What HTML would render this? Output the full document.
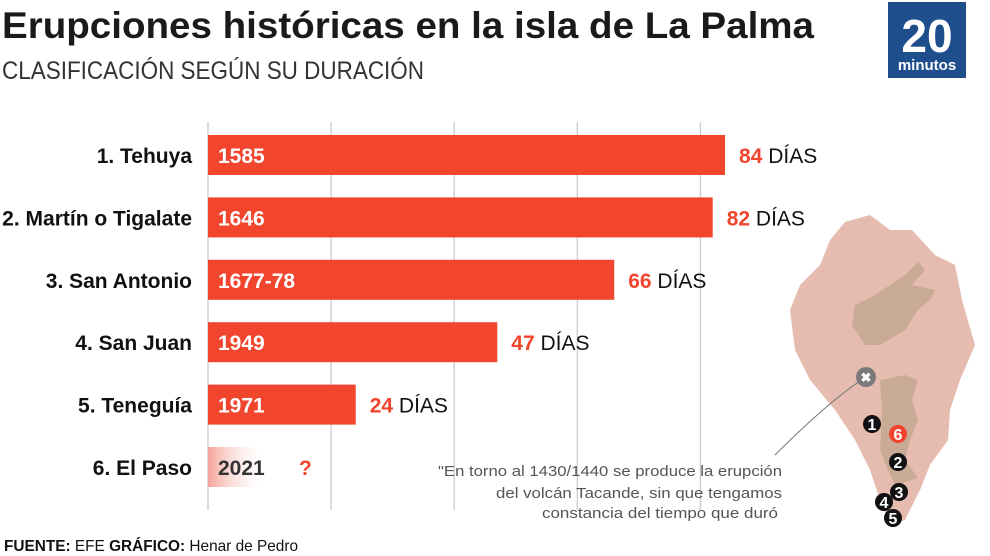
<!DOCTYPE html>
<html><head><meta charset="utf-8"><style>
body{margin:0;background:#fff;width:990px;height:556px;overflow:hidden}
svg{display:block;font-family:"Liberation Sans Narrow","Liberation Sans",sans-serif}
</style></head><body>
<svg id="c" width="990" height="556" viewBox="0 0 990 556">
<defs><linearGradient id="fade" x1="0" x2="1"><stop offset="0" stop-color="#f4a49a"/><stop offset="1" stop-color="#fff" stop-opacity="0"/></linearGradient></defs>
<text x="2" y="38" font-size="37" font-weight="bold" fill="#1a1a1a" textLength="812" lengthAdjust="spacingAndGlyphs">Erupciones históricas en la isla de La Palma</text>
<text x="2" y="79" font-size="25" fill="#333" textLength="422" lengthAdjust="spacingAndGlyphs">CLASIFICACIÓN SEGÚN SU DURACIÓN</text>
<g>
<rect x="888" y="2" width="78" height="76" fill="#1f4e8c"/>
<text x="927" y="52" font-size="46" font-weight="bold" fill="#fff" text-anchor="middle">20</text>
<text x="927" y="70" font-size="15" font-weight="bold" fill="#fff" text-anchor="middle">minutos</text>
</g>
<g id="map">
<path d="M845 222 L870 215 L890 230 L912 230 L935 255 L955 265 L962 300 L975 345 L960 380 L950 410 L948 440 L930 465 L920 490 L905 520 L890 525 L880 500 L870 470 L855 440 L835 410 L810 380 L795 350 L790 310 L800 285 L820 265 L830 240 Z" fill="#e6bcb0"/>
<path d="M918 262 L925 270 L912 285 L935 290 L930 300 L918 310 L905 330 L880 345 L865 345 L852 325 L855 305 L875 295 L890 285 L905 275 Z" fill="#c9ab95"/>
<path d="M880 380 L905 375 L918 380 L912 400 L918 420 L910 440 L905 460 L918 478 L905 482 L895 485 L888 470 L880 450 L882 410 Z" fill="#c9ab95"/>
<path d="M866 377 Q830 400 775 455" stroke="#777" stroke-width="1" fill="none"/>
<circle cx="866" cy="377" r="10" fill="#7a7a7a"/><text x="866" y="382" font-size="13" font-weight="bold" fill="#fff" text-anchor="middle">✖</text>
</g>
<g id="grid"></g><g id="bars"></g>
<g font-size="15" fill="#555" text-anchor="end">
<text x="782" y="476" textLength="344" lengthAdjust="spacingAndGlyphs">"En torno al 1430/1440 se produce la erupción</text>
<text x="782" y="498" textLength="286" lengthAdjust="spacingAndGlyphs">del volcán Tacande, sin que tengamos</text>
<text x="778" y="518" textLength="236" lengthAdjust="spacingAndGlyphs">constancia del tiempo que duró</text>
</g>
<text x="4" y="551" font-size="16" fill="#111" textLength="294" lengthAdjust="spacingAndGlyphs"><tspan font-weight="bold">FUENTE:</tspan> EFE    <tspan font-weight="bold">GRÁFICO:</tspan> Henar de Pedro</text>
</svg>
<script>
const names=["1. Tehuya","2. Martín o Tigalate","3. San Antonio","4. San Juan","5. Teneguía","6. El Paso"];
const years=["1585","1646","1677-78","1949","1971","2021"];
const days=[84,82,66,47,24,null];
const ticks=[0,20,40,60,80];
const mapDots=[[872,424,"1"],[898,434,"6"],[898,462,"2"],[899,492,"3"],[884,502,"4"],[893,518,"5"]];
const NS="http://www.w3.org/2000/svg";
const x=v=>208+v*6.155, y=i=>155+i*62.4;
function mk(t,a,p){const e=document.createElementNS(NS,t);for(const k in a)e.setAttribute(k,a[k]);p.appendChild(e);return e;}
const G=document.getElementById('grid'),B=document.getElementById('bars'),M=document.getElementById('map');
ticks.forEach(t=>{const l=mk('line',{x1:x(t),x2:x(t),y1:122,y2:510,stroke:'#ccc','stroke-width':1.3},G);

});
names.forEach((n,i)=>{const cy=y(i);
const lb=mk('text',{x:192,y:cy+8,'font-size':21,'font-weight':'bold',fill:'#111','text-anchor':'end'},B);lb.textContent=n;


const d=days[i];
const r=mk('rect',{x:208,y:cy-20,width:d==null?60:x(d)-208,height:40,fill:d==null?'url(#fade)':'#f2452d'},B);


const yr=mk('text',{x:218,y:cy+8,'font-size':21,'font-weight':'bold',fill:d==null?'#333':'#fff'},B);yr.textContent=years[i];


const v=mk('text',{x:d==null?299:x(d)+14,y:cy+8,'font-size':21,fill:'#111'},B);


if(d==null){v.innerHTML='<tspan fill="#f2452d" font-weight="bold">?</tspan>';}
else v.innerHTML='<tspan fill="#f2452d" font-weight="bold">'+d+'</tspan> DÍAS';
});
mapDots.forEach(p=>{const c=mk('circle',{cx:p[0],cy:p[1],r:9,fill:p[2]=="6"?'#f2452d':'#111'},M);


const t=mk('text',{x:p[0],y:p[1]+6,'font-size':16,'font-weight':'bold',fill:'#fff','text-anchor':'middle'},M);t.textContent=p[2];

});
</script>
</body></html>
